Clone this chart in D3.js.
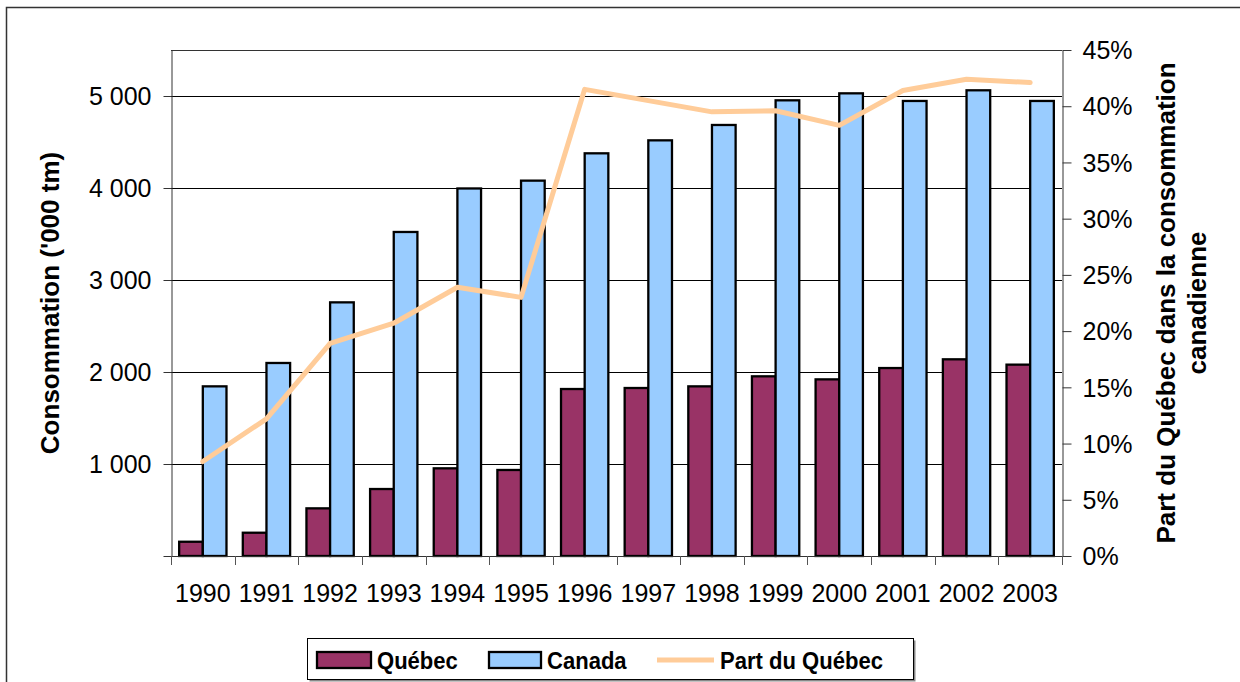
<!DOCTYPE html>
<html>
<head>
<meta charset="utf-8">
<script src="https://cdn.jsdelivr.net/npm/d3@7"></script>
<style>
  body { margin: 0; background: #fff; }
  text { font-family: 'Liberation Sans', Arial, sans-serif; fill: #000; }
</style>
</head>
<body>
<svg id="chart" width="1240" height="682"></svg>
<script>
// data
const years = ['1990', '1991', '1992', '1993', '1994', '1995', '1996', '1997', '1998', '1999', '2000', '2001', '2002', '2003'];
const quebec = [155, 253, 518, 728, 953, 935, 1815, 1826, 1844, 1953, 1920, 2043, 2138, 2080];
const canada = [1844, 2098, 2757, 3522, 3995, 4080, 4377, 4518, 4685, 4953, 5029, 4946, 5062, 4946];
const partQc = [8.4, 12.2, 18.9, 20.7, 23.9, 23.0, 41.5, 40.5, 39.5, 39.6, 38.3, 41.4, 42.4, 42.1];
const leftTicks = [0, 1000, 2000, 3000, 4000, 5000];
const rightTicks = [0, 5, 10, 15, 20, 25, 30, 35, 40, 45];
const seriesNames = ['Québec', 'Canada'];
const seriesColors = ['#993366', '#99ccff'];
const lineColor = '#ffcc99';

const svg = d3.select('#chart');
const plot = { left: 171, right: 1062, top: 50, bottom: 556 };

// outer frame
svg.append('rect')
  .attr('x', 6.5).attr('y', 7.5)
  .attr('width', 1260).attr('height', 700)
  .attr('fill', 'none')
  .attr('stroke', '#333')
  .attr('stroke-width', 1.5);

// scales
const x = d3.scaleBand().domain(years).range([plot.left, plot.right]);
const xSeries = d3.scaleBand()
  .domain(seriesNames)
  .range([0, x.bandwidth()])
  .paddingInner(0)
  .paddingOuter(0.345);
const y = d3.scaleLinear().domain([0, 5500]).range([plot.bottom, plot.top]);
const y2 = d3.scaleLinear().domain([0, 45]).range([plot.bottom, plot.top]);

// gridlines
svg.append('g')
  .selectAll('line')
  .data(leftTicks.filter((d) => d > 0))
  .enter()
  .append('line')
  .attr('x1', plot.left)
  .attr('x2', plot.right)
  .attr('y1', (d) => Math.round(y(d)) + 0.5)
  .attr('y2', (d) => Math.round(y(d)) + 0.5)
  .attr('stroke', '#000')
  .attr('stroke-width', 1);

// plot area top border
svg.append('line')
  .attr('x1', plot.left).attr('x2', plot.right)
  .attr('y1', plot.top + 0.5).attr('y2', plot.top + 0.5)
  .attr('stroke', '#333');

// bars
const groups = svg.append('g')
  .selectAll('g')
  .data(years)
  .enter()
  .append('g')
  .attr('transform', (d) => `translate(${x(d)},0)`);

groups.selectAll('rect')
  .data((d, i) => [
    { name: 'Québec', value: quebec[i] },
    { name: 'Canada', value: canada[i] }
  ])
  .enter()
  .append('rect')
  .attr('x', (d) => xSeries(d.name))
  .attr('y', (d) => y(d.value))
  .attr('width', xSeries.bandwidth())
  .attr('height', (d) => y(0) - y(d.value))
  .attr('fill', (d) => seriesColors[seriesNames.indexOf(d.name)])
  .attr('stroke', '#000')
  .attr('stroke-width', 2.3);

// left axis
const leftAxis = svg.append('g')
  .attr('transform', `translate(${plot.left + 0.5},0)`)
  .call(
    d3.axisLeft(y)
      .tickValues(leftTicks)
      .tickSize(8)
      .tickSizeOuter(0)
      .tickPadding(12)
      .tickFormat((d) => (d === 0 ? '' : d3.format(',')(d).replace(',', ' ')))
  );
leftAxis.selectAll('text').style('font-size', '25px').attr('dy', '0.35em');
leftAxis.selectAll('line, path').attr('stroke', '#333');

// right axis
const rightAxis = svg.append('g')
  .attr('transform', `translate(${plot.right + 0.5},0)`)
  .call(
    d3.axisRight(y2)
      .tickValues(rightTicks)
      .tickSize(9)
      .tickSizeOuter(0)
      .tickPadding(11)
      .tickFormat((d) => d + '%')
  );
rightAxis.selectAll('text').style('font-size', '25px').attr('dy', '0.35em');
rightAxis.selectAll('line, path').attr('stroke', '#333');

// bottom axis: baseline, boundary ticks, labels
svg.append('line')
  .attr('x1', plot.left).attr('x2', plot.right)
  .attr('y1', plot.bottom + 0.5).attr('y2', plot.bottom + 0.5)
  .attr('stroke', '#333');

svg.append('g')
  .selectAll('line')
  .data(years.map((d) => x(d)).concat([plot.right]))
  .enter()
  .append('line')
  .attr('x1', (d) => Math.round(d) + 0.5)
  .attr('x2', (d) => Math.round(d) + 0.5)
  .attr('y1', plot.bottom)
  .attr('y2', plot.bottom + 9)
  .attr('stroke', '#555');

svg.append('g')
  .selectAll('text')
  .data(years)
  .enter()
  .append('text')
  .attr('x', (d) => x(d) + x.bandwidth() / 2)
  .attr('y', 602)
  .attr('text-anchor', 'middle')
  .style('font-size', '25px')
  .text((d) => d);

// share line
const line = d3.line()
  .x((d, i) => x(years[i]) + x.bandwidth() / 2)
  .y((d) => y2(d));

svg.append('path')
  .datum(partQc)
  .attr('d', line)
  .attr('fill', 'none')
  .attr('stroke', lineColor)
  .attr('stroke-width', 5)
  .attr('stroke-linecap', 'round')
  .attr('stroke-linejoin', 'round');

// axis titles
svg.append('text')
  .attr('transform', `translate(59,${(plot.top + plot.bottom) / 2}) rotate(-90)`)
  .attr('text-anchor', 'middle')
  .style('font-size', '26px')
  .style('font-weight', 'bold')
  .text("Consommation ('000 tm)");

const rightTitle = svg.append('text')
  .attr('transform', `translate(1175,${(plot.top + plot.bottom) / 2}) rotate(-90)`)
  .attr('text-anchor', 'middle')
  .style('font-size', '26px')
  .style('font-weight', 'bold');
rightTitle.append('tspan').attr('x', 0).attr('y', 0).text('Part du Québec dans la consommation');
rightTitle.append('tspan').attr('x', 0).attr('y', 31).text('canadienne');

// legend
const legend = svg.append('g');
legend.append('rect')
  .attr('x', 309.5).attr('y', 640.5)
  .attr('width', 606).attr('height', 41)
  .attr('fill', '#888');
legend.append('rect')
  .attr('x', 307.5).attr('y', 638.5)
  .attr('width', 606).attr('height', 41)
  .attr('fill', '#fff')
  .attr('stroke', '#000')
  .attr('stroke-width', 1);

const legendItems = [
  { label: 'Québec', type: 'rect', color: seriesColors[0], x0: 317, x1: 371, tx: 377 },
  { label: 'Canada', type: 'rect', color: seriesColors[1], x0: 489, x1: 541, tx: 547 },
  { label: 'Part du Québec', type: 'line', color: lineColor, x0: 657, x1: 714, tx: 720 }
];

legendItems.forEach((d) => {
  if (d.type === 'rect') {
    legend.append('rect')
      .attr('x', d.x0).attr('y', 652)
      .attr('width', d.x1 - d.x0).attr('height', 16)
      .attr('fill', d.color)
      .attr('stroke', '#000')
      .attr('stroke-width', 2.3);
  } else {
    legend.append('line')
      .attr('x1', d.x0).attr('x2', d.x1)
      .attr('y1', 660).attr('y2', 660)
      .attr('stroke', d.color)
      .attr('stroke-width', 5);
  }
  legend.append('text')
    .attr('transform', `translate(${d.tx},669) scale(0.9,1)`)
    .style('font-size', '24.5px')
    .style('font-weight', 'bold')
    .text(d.label);
});
</script>
</body>
</html>
